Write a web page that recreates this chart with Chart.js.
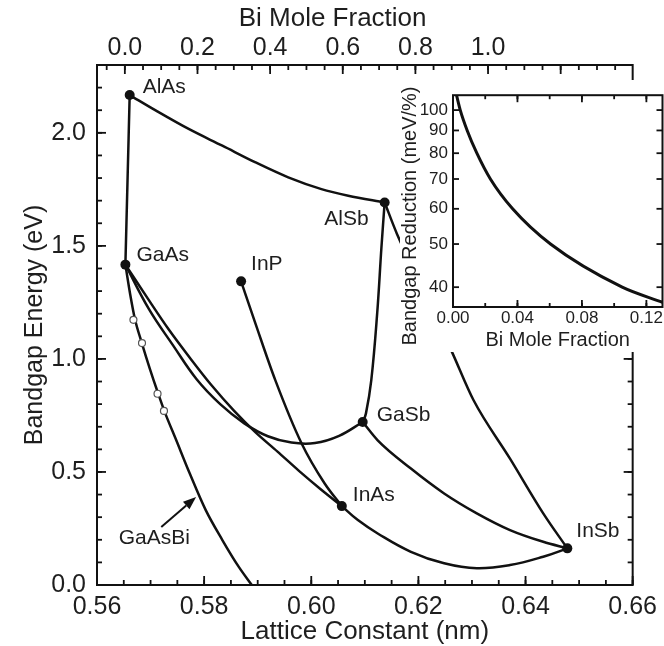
<!DOCTYPE html>
<html>
<head>
<meta charset="utf-8">
<title>Bandgap energy vs lattice constant</title>
<script src="https://cdn.jsdelivr.net/npm/chart.js@4.4.1/dist/chart.umd.min.js"></script>
<style>
  html, body { margin: 0; padding: 0; background: #fff; }
  #wrap { position: relative; width: 664px; height: 646px; }
  #mainChart { position: absolute; left: 0; top: 0; }
  #insetChart { position: absolute; left: 400px; top: 80px; background: #fff; }
</style>
</head>
<body>
<div id="wrap">
  <canvas id="mainChart" width="664" height="646"></canvas>
  <canvas id="insetChart" width="264" height="272"></canvas>
</div>
<script>
// binary compounds: lattice constant (nm), bandgap (eV)
const compoundNames = ['AlAs', 'GaAs', 'InP', 'AlSb', 'GaSb', 'InAs', 'InSb'];
const compoundLattice = [0.5661, 0.5653, 0.5869, 0.6137, 0.6096, 0.6057, 0.6478];
const compoundGap = [2.167, 1.417, 1.343, 1.692, 0.721, 0.349, 0.162];

// ternary alloy curves
const alasGaasLattice = [0.5661, 0.5657, 0.5653];
const alasGaasGap = [2.167, 1.79, 1.417];

const alasAlsbLattice = [0.5661, 0.5711, 0.5772, 0.5834, 0.5896, 0.5957, 0.6019, 0.6069, 0.6137];
const alasAlsbGap = [2.167, 2.097, 2.016, 1.943, 1.869, 1.803, 1.751, 1.722, 1.692];

const alsbGasbLattice = [0.6137, 0.6131, 0.6123, 0.6112, 0.6102, 0.6096];
const alsbGasbGap = [1.692, 1.494, 1.200, 0.905, 0.758, 0.721];

const alsbInsbLattice = [0.6137, 0.6160, 0.6212, 0.6263, 0.6303, 0.6371, 0.6433, 0.6478];
const alsbInsbGap = [1.692, 1.553, 1.29, 1.029, 0.817, 0.559, 0.317, 0.162];

const gaasGasbLattice = [0.5653, 0.5697, 0.5742, 0.5786, 0.5830, 0.5875, 0.5919, 0.5963, 0.6007, 0.6052, 0.6096];
const gaasGasbGap = [1.417, 1.22, 1.06, 0.91, 0.80, 0.715, 0.658, 0.630, 0.628, 0.660, 0.721];

const gaasInasLattice = [0.5653, 0.5694, 0.5734, 0.5775, 0.5815, 0.5856, 0.5896, 0.5937, 0.5977, 0.6017, 0.6057];
const gaasInasGap = [1.417, 1.27, 1.13, 1.0, 0.88, 0.77, 0.675, 0.59, 0.505, 0.425, 0.349];

const inpInasLattice = [0.5869, 0.5896, 0.5933, 0.5982, 0.6025, 0.6057];
const inpInasGap = [1.343, 1.155, 0.905, 0.626, 0.449, 0.349];

const inasInsbLattice = [0.6057, 0.6087, 0.6124, 0.6186, 0.6248, 0.6309, 0.6371, 0.6433, 0.6478];
const inasInsbGap = [0.349, 0.287, 0.228, 0.147, 0.096, 0.074, 0.088, 0.125, 0.162];

const gasbInsbLattice = [0.6096, 0.6124, 0.6186, 0.6248, 0.6309, 0.6371, 0.6433, 0.6478];
const gasbInsbGap = [0.721, 0.640, 0.515, 0.405, 0.317, 0.243, 0.191, 0.162];

const gaasbiLattice = [0.5653, 0.5662, 0.5671, 0.5684, 0.5699, 0.5714, 0.5726, 0.5748, 0.5773, 0.5803, 0.5834, 0.5865, 0.5889];
const gaasbiGap = [1.417, 1.285, 1.174, 1.068, 0.954, 0.848, 0.768, 0.640, 0.494, 0.331, 0.199, 0.079, 0.0];

// measured GaAsBi points (open circles)
const gaasbiDataLattice = [0.5668, 0.5684, 0.5713, 0.5725];
const gaasbiDataGap = [1.173, 1.070, 0.846, 0.770];

// inset: bandgap reduction per % Bi vs Bi mole fraction
const insetFraction = [0.0022, 0.0045, 0.0088, 0.0148, 0.0232, 0.037, 0.0605, 0.105, 0.13];
const insetReduction = [108, 100, 90, 80, 70, 60, 50, 40, 37.0];

// tick labels
const latticeTicks = [0.56, 0.58, 0.60, 0.62, 0.64, 0.66];
const gapTicks = [0.0, 0.5, 1.0, 1.5, 2.0];
const biTicks = [0.0, 0.2, 0.4, 0.6, 0.8, 1.0];
const insetFractionTicks = [0.00, 0.04, 0.08, 0.12];
const insetReductionTicks = [40, 50, 60, 70, 80, 90, 100];

// top axis calibration: Bi fraction 0 -> GaAs, 1 -> GaBi
const biZeroLattice = 0.5652;
const biOneLattice = 0.633;

const INK = '#111';
const TEXT = '#1e1e1e';
const FONT = '"Liberation Sans", Arial, Helvetica, sans-serif';

function pts(xs, ys) {
    return xs.map((x, i) => ({ x: x, y: ys[i] }));
}

function steps(from, to, step) {
    const out = [];
    for (let v = from; v <= to + step / 1000; v += step) out.push(+v.toFixed(4));
    return out;
}

function curve(xs, ys, monotone) {
    const ds = {
        data: pts(xs, ys),
        showLine: true,
        borderColor: INK,
        borderWidth: 2.5,
        pointRadius: 0,
        tension: 0.4,
        fill: false,
        order: 2
    };
    if (monotone) ds.cubicInterpolationMode = 'monotone';
    return ds;
}

// inward tick marks + frame box
const frameTicks = {
    id: 'frameTicks',
    afterDatasetsDraw(chart, args, opts) {
        const { ctx, chartArea: area } = chart;
        ctx.save();
        ctx.strokeStyle = INK;
        ctx.lineWidth = opts.tickWidth;
        opts.marks.forEach(mark => {
            const scale = chart.scales[mark.scale];
            mark.values.forEach(v => {
                const p = scale.getPixelForValue(v);
                const horiz = mark.side === 'top' || mark.side === 'bottom';
                if (horiz && (p < area.left - 0.5 || p > area.right + 0.5)) return;
                if (!horiz && (p < area.top - 0.5 || p > area.bottom + 0.5)) return;
                ctx.beginPath();
                if (mark.side === 'bottom') { ctx.moveTo(p, area.bottom); ctx.lineTo(p, area.bottom - mark.len); }
                if (mark.side === 'top') { ctx.moveTo(p, area.top); ctx.lineTo(p, area.top + mark.len); }
                if (mark.side === 'left') { ctx.moveTo(area.left, p); ctx.lineTo(area.left + mark.len, p); }
                if (mark.side === 'right') { ctx.moveTo(area.right, p); ctx.lineTo(area.right - mark.len, p); }
                ctx.stroke();
            });
        });
        ctx.lineWidth = opts.frameWidth;
        ctx.strokeRect(area.left, area.top, area.right - area.left, area.bottom - area.top);
        ctx.restore();
    }
};

// compound names, GaAsBi arrow, top axis title
const mainNotes = {
    id: 'mainNotes',
    afterDraw(chart, args, opts) {
        const { ctx } = chart;
        const x = chart.scales.x, y = chart.scales.y;
        ctx.save();
        ctx.fillStyle = TEXT;
        ctx.textBaseline = 'middle';
        ctx.font = '21px ' + FONT;
        compoundNames.forEach((name, i) => {
            const o = opts.offsets[name];
            ctx.textAlign = o.align;
            ctx.fillText(name, x.getPixelForValue(compoundLattice[i]) + o.dx, y.getPixelForValue(compoundGap[i]) + o.dy);
        });

        ctx.textAlign = 'center';
        ctx.fillText('GaAsBi', x.getPixelForValue(opts.bi.label[0]), y.getPixelForValue(opts.bi.label[1]));

        const x0 = x.getPixelForValue(opts.bi.tail[0]), y0 = y.getPixelForValue(opts.bi.tail[1]);
        const x1 = x.getPixelForValue(opts.bi.head[0]), y1 = y.getPixelForValue(opts.bi.head[1]);
        const ang = Math.atan2(y1 - y0, x1 - x0);
        const hl = 13, hw = 5;
        ctx.strokeStyle = INK;
        ctx.fillStyle = INK;
        ctx.lineWidth = 2;
        ctx.beginPath();
        ctx.moveTo(x0, y0);
        ctx.lineTo(x1 - hl * Math.cos(ang), y1 - hl * Math.sin(ang));
        ctx.stroke();
        ctx.beginPath();
        ctx.moveTo(x1, y1);
        ctx.lineTo(x1 - hl * Math.cos(ang) + hw * Math.sin(ang), y1 - hl * Math.sin(ang) - hw * Math.cos(ang));
        ctx.lineTo(x1 - hl * Math.cos(ang) - hw * Math.sin(ang), y1 - hl * Math.sin(ang) + hw * Math.cos(ang));
        ctx.closePath();
        ctx.fill();

        ctx.fillStyle = TEXT;
        ctx.font = '26px ' + FONT;
        ctx.fillText('Bi Mole Fraction', chart.scales.x2.getPixelForValue(opts.topTitleAt), opts.topTitleY);
        ctx.restore();
    }
};

const insetNotes = {
    id: 'insetNotes',
    afterDraw(chart, args, opts) {
        const { ctx } = chart;
        ctx.save();
        ctx.fillStyle = TEXT;
        ctx.font = '20px ' + FONT;
        ctx.textAlign = 'center';
        ctx.textBaseline = 'middle';
        ctx.translate(opts.titleX, opts.titleY);
        ctx.rotate(-Math.PI / 2);
        ctx.fillText('Bandgap Reduction (meV/%)', 0, 0);
        ctx.restore();
    }
};

const tickFont = { family: FONT, size: 25 };

new Chart(document.getElementById('mainChart'), {
    type: 'scatter',
    data: {
        datasets: [
            {
                data: pts(compoundLattice, compoundGap),
                pointRadius: 5,
                pointBackgroundColor: INK,
                pointBorderWidth: 0,
                order: 0
            },
            {
                data: pts(gaasbiDataLattice, gaasbiDataGap),
                pointRadius: 3.5,
                pointBackgroundColor: '#fff',
                pointBorderColor: '#555',
                pointBorderWidth: 1.2,
                order: 1
            },
            curve(alasGaasLattice, alasGaasGap),
            curve(alasAlsbLattice, alasAlsbGap, true),
            curve(alsbGasbLattice, alsbGasbGap),
            curve(alsbInsbLattice, alsbInsbGap, true),
            curve(gaasGasbLattice, gaasGasbGap),
            curve(gaasInasLattice, gaasInasGap, true),
            curve(inpInasLattice, inpInasGap, true),
            curve(inasInsbLattice, inasInsbGap),
            curve(gasbInsbLattice, gasbInsbGap, true),
            curve(gaasbiLattice, gaasbiGap, true)
        ]
    },
    options: {
        responsive: false,
        animation: false,
        events: [],
        layout: { padding: { left: 0, right: 27, top: 0, bottom: 0 } },
        plugins: {
            legend: { display: false },
            tooltip: { enabled: false },
            frameTicks: {
                tickWidth: 1.8,
                frameWidth: 2,
                marks: [
                    { scale: 'x', side: 'bottom', values: steps(0.56, 0.66, 0.005), len: 5 },
                    { scale: 'x', side: 'bottom', values: latticeTicks, len: 9 },
                    { scale: 'x2', side: 'top', values: steps(-0.05, 1.35, 0.05), len: 5 },
                    { scale: 'x2', side: 'top', values: steps(0, 1.2, 0.2), len: 9 },
                    { scale: 'y', side: 'left', values: steps(0, 2.3, 0.1), len: 5 },
                    { scale: 'y', side: 'left', values: gapTicks, len: 9 },
                    { scale: 'y', side: 'right', values: steps(0, 2.3, 0.1), len: 5 },
                    { scale: 'y', side: 'right', values: gapTicks, len: 9 }
                ]
            },
            mainNotes: {
                offsets: {
                    AlAs: { dx: 13, dy: -8, align: 'left' },
                    GaAs: { dx: 11, dy: -9, align: 'left' },
                    InP: { dx: 10, dy: -17, align: 'left' },
                    AlSb: { dx: -16, dy: 17, align: 'right' },
                    GaSb: { dx: 14, dy: -7, align: 'left' },
                    InAs: { dx: 11, dy: -11, align: 'left' },
                    InSb: { dx: 9, dy: -17, align: 'left' }
                },
                bi: { label: [0.5707, 0.206], tail: [0.5720, 0.257], head: [0.5785, 0.389] },
                topTitleAt: 0.572,
                topTitleY: 19
            }
        },
        scales: {
            x: {
                type: 'linear',
                position: 'bottom',
                min: 0.56,
                max: 0.66,
                afterBuildTicks: s => { s.ticks = latticeTicks.map(v => ({ value: v })); },
                afterFit: s => { s.height = 61; },
                ticks: { autoSkip: false, maxRotation: 0, padding: 7, color: TEXT, font: tickFont, callback: v => v.toFixed(2) },
                grid: { display: false, drawTicks: false },
                border: { display: false },
                title: { display: true, text: 'Lattice Constant (nm)', color: TEXT, font: { family: FONT, size: 26, lineHeight: 1.1 }, padding: { top: 0, bottom: 0 } }
            },
            x2: {
                type: 'linear',
                position: 'top',
                min: (0.56 - biZeroLattice) / (biOneLattice - biZeroLattice),
                max: (0.66 - biZeroLattice) / (biOneLattice - biZeroLattice),
                afterBuildTicks: s => { s.ticks = biTicks.map(v => ({ value: v })); },
                afterFit: s => { s.height = 65; },
                ticks: { autoSkip: false, maxRotation: 0, padding: 2, color: TEXT, font: tickFont, callback: v => v.toFixed(1) },
                grid: { display: false, drawTicks: false },
                border: { display: false }
            },
            y: {
                type: 'linear',
                position: 'left',
                min: 0,
                max: 2.3,
                afterBuildTicks: s => { s.ticks = gapTicks.map(v => ({ value: v })); },
                afterFit: s => { s.width = 97; },
                ticks: { autoSkip: false, padding: 11, color: TEXT, font: tickFont, callback: v => v.toFixed(1) },
                grid: { display: false, drawTicks: false },
                border: { display: false },
                title: { display: true, text: 'Bandgap Energy (eV)', color: TEXT, font: { family: FONT, size: 25, lineHeight: 1.2 }, padding: { top: 20, bottom: 0 } }
            }
        }
    },
    plugins: [frameTicks, mainNotes]
});

new Chart(document.getElementById('insetChart'), {
    type: 'scatter',
    data: {
        datasets: [{
            data: pts(insetFraction, insetReduction),
            showLine: true,
            borderColor: INK,
            borderWidth: 3,
            pointRadius: 0,
            cubicInterpolationMode: 'monotone',
            fill: false
        }]
    },
    options: {
        responsive: false,
        animation: false,
        events: [],
        layout: { padding: { left: 0, right: 1, top: 4, bottom: 0 } },
        plugins: {
            legend: { display: false },
            tooltip: { enabled: false },
            frameTicks: {
                tickWidth: 1.8,
                frameWidth: 2,
                marks: [
                    { scale: 'x', side: 'bottom', values: steps(0, 0.13, 0.02), len: 4 },
                    { scale: 'x', side: 'bottom', values: insetFractionTicks, len: 7 },
                    { scale: 'x', side: 'top', values: steps(0, 0.13, 0.02), len: 4 },
                    { scale: 'x', side: 'top', values: insetFractionTicks, len: 7 },
                    { scale: 'y', side: 'left', values: insetReductionTicks, len: 6 },
                    { scale: 'y', side: 'right', values: insetReductionTicks, len: 6 }
                ]
            },
            insetNotes: { titleX: 10, titleY: 136 }
        },
        scales: {
            x: {
                type: 'linear',
                position: 'bottom',
                min: 0,
                max: 0.13,
                afterBuildTicks: s => { s.ticks = insetFractionTicks.map(v => ({ value: v })); },
                afterFit: s => { s.height = 45; },
                ticks: { autoSkip: false, maxRotation: 0, padding: 1, color: TEXT, font: { family: FONT, size: 17 }, callback: v => v.toFixed(2) },
                grid: { display: false, drawTicks: false },
                border: { display: false },
                title: { display: true, text: 'Bi Mole Fraction', color: TEXT, font: { family: FONT, size: 20, lineHeight: 1.2 }, padding: { top: 0, bottom: 0 } }
            },
            y: {
                type: 'logarithmic',
                position: 'left',
                min: 36.1,
                max: 108,
                afterBuildTicks: s => { s.ticks = insetReductionTicks.map(v => ({ value: v })); },
                afterFit: s => { s.width = 53; },
                ticks: { autoSkip: false, padding: 5, color: TEXT, font: { family: FONT, size: 17 }, callback: v => String(v) },
                grid: { display: false, drawTicks: false },
                border: { display: false }
            }
        }
    },
    plugins: [frameTicks, insetNotes]
});
</script>
</body>
</html>
